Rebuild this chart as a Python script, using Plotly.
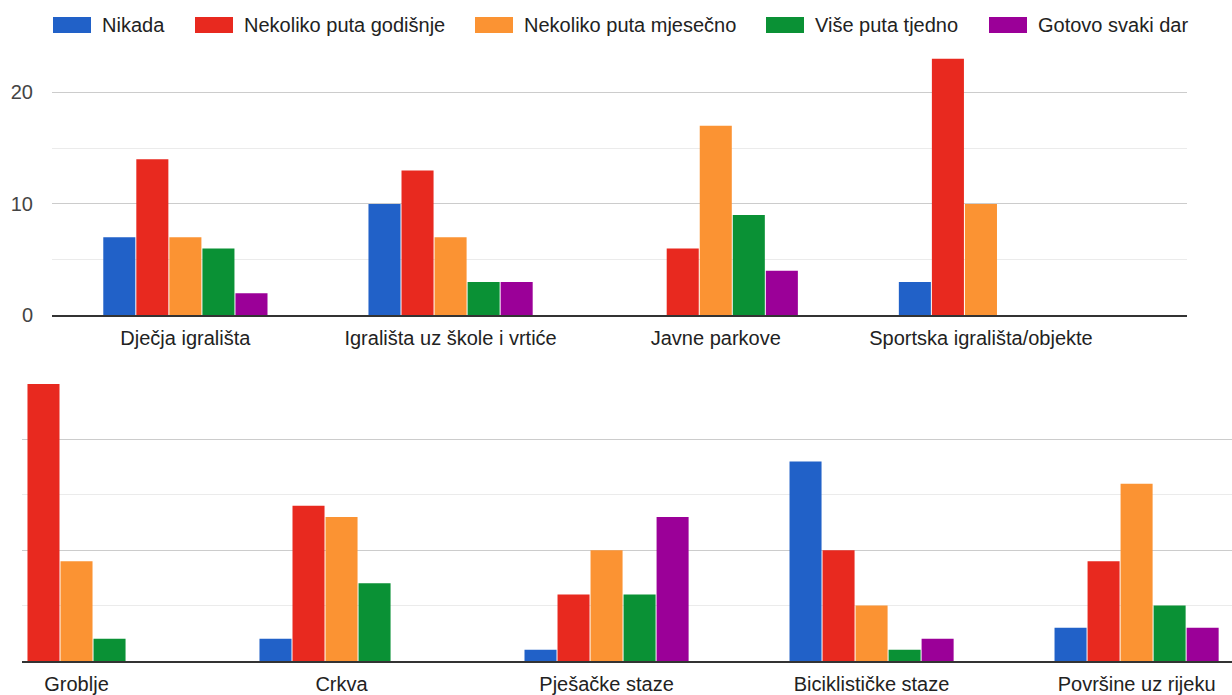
import plotly.graph_objects as go

series = ["Nikada", "Nekoliko puta godišnje", "Nekoliko puta mjesečno", "Više puta tjedno", "Gotovo svaki dar"]
colors = ["#2161c8", "#e8291f", "#fb9333", "#0a9135", "#9b0098"]

cats_top = ["Dječja igrališta", "Igrališta uz škole i vrtiće", "Javne parkove", "Sportska igrališta/objekte"]
vals_top = [
    [7, 10, 0, 3],     # Nikada
    [14, 13, 6, 23],   # Nekoliko puta godišnje
    [7, 7, 17, 10],    # Nekoliko puta mjesečno
    [6, 3, 9, 0],      # Više puta tjedno
    [2, 3, 4, 0],      # Gotovo svaki dar
]

cats_bot = ["Groblje", "Crkva", "Pješačke staze", "Biciklističke staze", "Površine uz rijeku"]
vals_bot = [
    [0, 2, 1, 18, 3],
    [25, 14, 6, 10, 9],
    [9, 13, 10, 5, 16],
    [2, 7, 6, 1, 5],
    [0, 0, 13, 2, 3],
]

y_ticks = [0, 10, 20]
y_tick_labels = ["0", "10", "20"]

W, H = 1232, 705
KY = 1 / 0.986
FONT = "Liberation Sans, Arial, sans-serif"
FS = 20

fig = go.Figure()
for i, name in enumerate(series):
    fig.add_trace(go.Bar(x=cats_top, y=vals_top[i], name=name, marker_color=colors[i],
                         marker_line_width=0, xaxis="x", yaxis="y", showlegend=False))
    fig.add_trace(go.Bar(x=cats_bot, y=vals_bot[i], name=name, marker_color=colors[i],
                         marker_line_width=0, xaxis="x2", yaxis="y2", showlegend=False))

def px_x(p):
    return p / W

def px_y(p):
    return 1 - p * KY / H

common_y = dict(range=[0, 25.05], showline=False, zeroline=False, ticks="",
                gridcolor="#cccccc", gridwidth=1,
                minor=dict(dtick=5, showgrid=True, gridcolor="#ebebeb", gridwidth=1))
common_x = dict(type="category", showgrid=False, showline=True, linecolor="#333333", linewidth=1.5,
                ticks="", ticklabelstandoff=4,
                tickfont=dict(family=FONT, size=FS, color="#222222"), zeroline=False)

fig.update_layout(
    width=W, height=H,
    margin=dict(l=0, r=0, t=0, b=0),
    paper_bgcolor="white", plot_bgcolor="white",
    barmode="group", bargap=0.377, bargroupgap=0.03,
    font=dict(family=FONT, size=FS, color="#222222"),
    xaxis=dict(domain=[px_x(52), px_x(1187)], range=[-0.503, 3.777], anchor="y", **common_x),
    yaxis=dict(domain=[px_y(316), px_y(36)], anchor="x", tickvals=y_ticks, ticktext=y_tick_labels,
               ticklabelstandoff=18,
               tickfont=dict(family=FONT, size=FS, color="#444444"), **common_y),
    xaxis2=dict(domain=[px_x(22), 1], range=[-0.2057, 4.36], anchor="y2", **common_x),
    yaxis2=dict(domain=[px_y(662), px_y(384)], anchor="x2", tickvals=y_ticks, showticklabels=False,
                **common_y),
)

# custom legend (wide swatches)
legend_swatch_x = [53, 195, 475, 766, 989]
for i, name in enumerate(series):
    x0 = legend_swatch_x[i]
    fig.add_shape(type="rect", xref="paper", yref="paper",
                  x0=px_x(x0), x1=px_x(x0 + 38), y0=px_y(33), y1=px_y(17),
                  fillcolor=colors[i], line=dict(width=0))
    fig.add_annotation(xref="paper", yref="paper", x=px_x(x0 + 47), y=px_y(25),
                       text=name, showarrow=False, xanchor="left", yanchor="middle",
                       font=dict(family=FONT, size=FS, color="#222222"))

fig.write_html("out.html", config={"displayModeBar": False},
               post_script="document.body.style.margin='0';document.body.style.overflow='hidden';")
